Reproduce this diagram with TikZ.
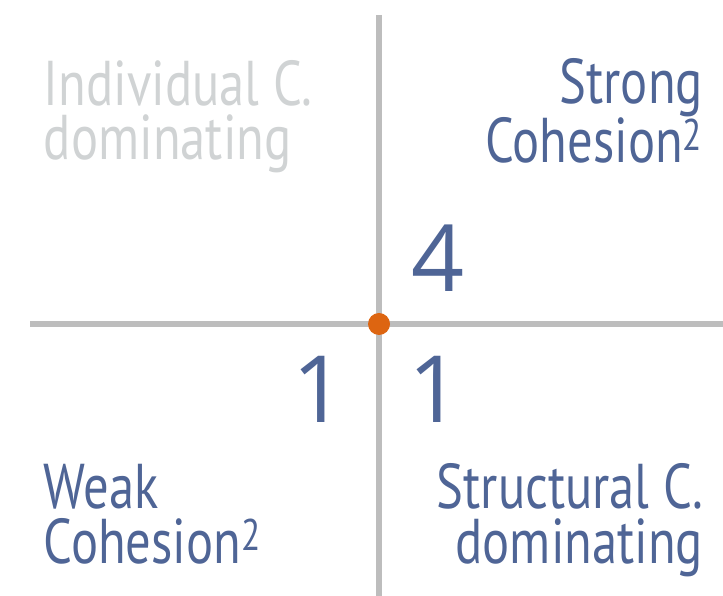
\documentclass[tikz,border=0pt]{standalone}
\usepackage{fontspec}
\setmainfont{PT Sans}[FakeStretch=0.8]
\newfontfamily\digitfont{Open Sans}
\usepackage{tikz}
\usetikzlibrary{positioning}
\usepackage{xcolor}
\definecolor{axisgray}{HTML}{BDBDBD}
\definecolor{fadegray}{HTML}{D0D3D4}
\definecolor{cohblue}{HTML}{4F6596}
\definecolor{dotorange}{HTML}{DD6511}

\begin{document}
\begin{tikzpicture}[x=0.025cm, y=-0.025cm,
        every node/.style={inner sep=0pt, outer sep=0pt},
        label/.style={font=\fontsize{45}{39}\selectfont, text=cohblue},
        faded/.style={font=\fontsize{45}{39}\selectfont, text=fadegray},
        count/.style={font=\digitfont\fontsize{66}{70}\selectfont, text=cohblue},
        axis/.style={line width=0.15cm, draw=axisgray}]
            \useasboundingbox (0,0) rectangle (723,596);
            % axes
            \coordinate (top) at (379,15);
            \coordinate (bottom) at (379,596);
            \coordinate (left) at (30,324);
            \coordinate (right) at (723,324);
            \draw[axis] (top) -- (bottom);
            \draw[axis] (left) -- (right);
            \node[circle, fill=dotorange, minimum size=0.55cm] (origin) at (379,324) {};
            % quadrant labels (base = last line)
            \node[faded, align=left, anchor=base west] (indiv) at (44,160) {Individual C.\\dominating};
            \node[label, align=right, anchor=base east] (strong) at (703,163) {Strong\\Cohesion\textsuperscript{2}};
            \node[label, align=left, anchor=base west] (weak) at (44,563) {Weak\\Cohesion\textsuperscript{2}};
            \node[label, align=right, anchor=base east] (struct) at (703,563) {Structural C.\\dominating};
            % counts
            \node[count, anchor=base west] (nstrong) at (411,292) {4};
            \node[count, anchor=base east] (nweak) at (346,422) {1};
            \node[count, anchor=base west] (nstruct) at (408,422) {1};
        \end{tikzpicture}
\end{document}
